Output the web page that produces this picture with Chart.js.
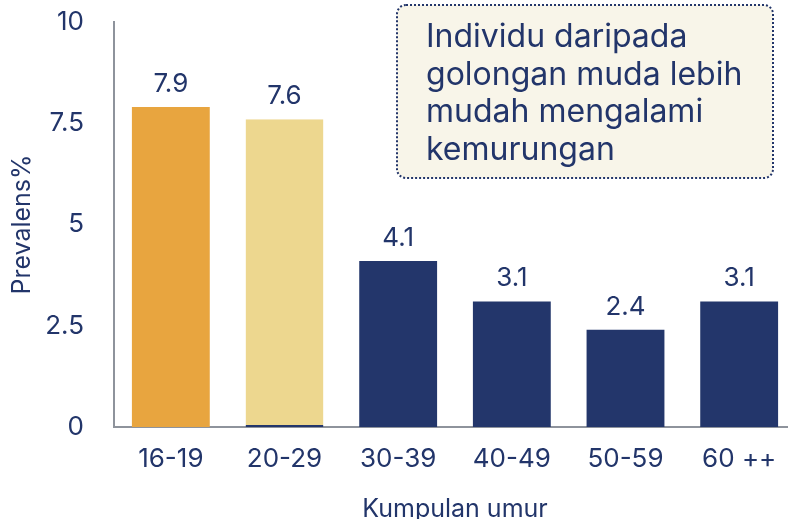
<!DOCTYPE html>
<html>
<head>
<meta charset="utf-8">
<script src="https://cdn.jsdelivr.net/npm/chart.js@4.4.0/dist/chart.umd.min.js"></script>
<style>
  html, body { margin: 0; padding: 0; background: #ffffff; overflow: hidden; }
  #wrap { width: 788px; height: 519px; position: relative; overflow: hidden; }
</style>
</head>
<body>
<div id="wrap"><canvas id="c" width="796" height="519"></canvas></div>
<script>
const categories = ["16-19", "20-29", "30-39", "40-49", "50-59", "60 ++"];
const prevalence = [7.9, 7.6, 4.1, 3.1, 2.4, 3.1];
const barColors = ["#E8A53F", "#EDD78F", "#23366B", "#23366B", "#23366B", "#23366B"];
const yTicks = [0, 2.5, 5, 7.5, 10];
const noteLines = ["Individu daripada", "golongan muda lebih", "mudah mengalami", "kemurungan"];
const xTitle = "Kumpulan umur";
const yTitle = "Prevalens%";

const NAVY = "#22356A";
const FONT = "Inter, 'Noto Sans', sans-serif";

const valueLabels = {
  id: "valueLabels",
  afterDatasetsDraw(chart) {
    const ctx = chart.ctx;
    const meta = chart.getDatasetMeta(0);
    ctx.save();
    ctx.font = "26px " + FONT;
    ctx.fillStyle = NAVY;
    ctx.textAlign = "center";
    ctx.textBaseline = "alphabetic";
    meta.data.forEach((bar, i) => {
      ctx.fillText(String(prevalence[i]), bar.x, bar.y - 15);
    });
    ctx.restore();
  }
};

const noteBox = {
  id: "noteBox",
  afterDraw(chart) {
    const ctx = chart.ctx;
    const x = 397, y = 5, w = 376, h = 173, r = 9;
    ctx.save();
    ctx.beginPath();
    ctx.roundRect(x, y, w, h, r);
    ctx.fillStyle = "#F8F5E9";
    ctx.fill();
    ctx.setLineDash([2, 2]);
    ctx.lineWidth = 2;
    ctx.strokeStyle = NAVY;
    ctx.stroke();
    ctx.setLineDash([]);
    ctx.font = "32px " + FONT;
    ctx.fillStyle = NAVY;
    ctx.textAlign = "left";
    ctx.textBaseline = "alphabetic";
    noteLines.forEach((t, i) => {
      ctx.fillText(t, 426, 47 + i * 37.7);
    });
    ctx.restore();
  }
};

new Chart(document.getElementById("c"), {
  type: "bar",
  data: {
    labels: categories,
    datasets: [{
      data: prevalence,
      backgroundColor: barColors,
      borderColor: "#23366B",
      borderWidth: [0, { top: 0, left: 0, right: 0, bottom: 2 }, 0, 0, 0, 0],
      borderSkipped: false,
      barPercentage: 0.685,
      categoryPercentage: 1.0
    }]
  },
  options: {
    responsive: false,
    animation: false,
    layout: { padding: { top: 0, right: 0, left: 0, bottom: 0 } },
    plugins: { legend: { display: false }, tooltip: { enabled: false } },
    scales: {
      x: {
        grid: { display: false, drawTicks: false },
        border: { display: true, color: "#8E939C", width: 2 },
        ticks: { color: NAVY, font: { family: FONT, size: 26 }, padding: 17, maxRotation: 0 },
        title: { display: true, text: xTitle, color: NAVY, font: { family: FONT, size: 25 }, padding: { top: 10, bottom: -5 } },
        afterFit(scale) { scale.height = 92; scale.paddingTop = 0; }
      },
      y: {
        min: 0, max: 10,
        afterBuildTicks(scale) { scale.ticks = yTicks.map(v => ({ value: v })); },
        grid: { display: false, drawTicks: false },
        border: { display: true, color: "#8E939C", width: 2 },
        ticks: {
          color: NAVY, font: { family: FONT, size: 26 }, padding: 30,
          callback: (v) => String(v)
        },
        title: { display: true, text: yTitle, color: NAVY, font: { family: FONT, size: 25 }, padding: { top: 7, bottom: 0 } },
        afterFit(scale) { scale.width = 114; scale.paddingTop = 22; scale.paddingBottom = 0; }
      }
    }
  },
  plugins: [valueLabels, noteBox]
});
</script>
</body>
</html>
